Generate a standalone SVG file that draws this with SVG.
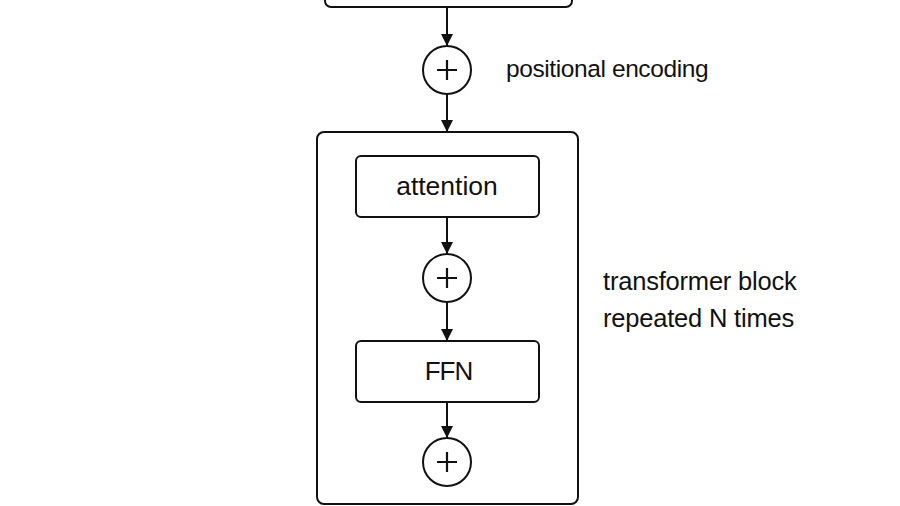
<svg xmlns="http://www.w3.org/2000/svg" width="900" height="506" viewBox="0 0 900 506">
<defs>
<style>
.box{fill:#fff;stroke:#111;stroke-width:2}
.circ{fill:#fff;stroke:#111;stroke-width:2}
.plus{stroke:#111;stroke-width:2.2;fill:none}
.edge{stroke:#111;stroke-width:2;fill:none}
.lbl{font-family:"Liberation Sans",Arial,sans-serif;fill:#111}
</style>
<marker id="ah" markerWidth="14" markerHeight="14" refX="12" refY="6.5" orient="auto" markerUnits="userSpaceOnUse">
<path d="M0,0.5 L12,6.5 L0,12.5 Z" fill="#111"/>
</marker>
</defs>
<rect width="900" height="506" fill="#fff"/>
<g id="input-box">
<rect class="box" x="325" y="-20" width="247" height="27" rx="6"/>
</g>
<g id="pos-add">
<circle class="circ" cx="447" cy="70" r="24"/>
<path class="plus" d="M437,70 H457 M447,60 V80"/>
</g>
<text class="lbl" x="506" y="77" font-size="24.5" letter-spacing="-0.4">positional encoding</text>
<g id="transformer-block">
<rect class="box" x="317" y="132" width="261" height="372" rx="7"/>
</g>
<g id="attention">
<rect class="box" x="356" y="156" width="183" height="61" rx="5"/>
<text class="lbl" x="447" y="195" font-size="26.5" text-anchor="middle">attention</text>
</g>
<g id="attn-add">
<circle class="circ" cx="447" cy="278" r="24"/>
<path class="plus" d="M437,278 H457 M447,268 V288"/>
</g>
<g id="ffn">
<rect class="box" x="356" y="341" width="183" height="61" rx="5"/>
<text class="lbl" x="448.5" y="380" font-size="26" letter-spacing="-1" text-anchor="middle">FFN</text>
</g>
<g id="ffn-add">
<circle class="circ" cx="447" cy="462" r="24"/>
<path class="plus" d="M437,462 H457 M447,452 V472"/>
</g>
<text class="lbl" x="603" y="290" font-size="25.5" letter-spacing="-0.2">transformer block</text>
<text class="lbl" x="603" y="327" font-size="25.5" letter-spacing="-0.2">repeated N times</text>
<g id="connectors">
<line class="edge" x1="447" y1="7" x2="447" y2="46" marker-end="url(#ah)"/>
<line class="edge" x1="447" y1="94" x2="447" y2="132" marker-end="url(#ah)"/>
<line class="edge" x1="447" y1="217" x2="447" y2="254" marker-end="url(#ah)"/>
<line class="edge" x1="447" y1="302" x2="447" y2="341" marker-end="url(#ah)"/>
<line class="edge" x1="447" y1="402" x2="447" y2="438" marker-end="url(#ah)"/>
</g>
</svg>
